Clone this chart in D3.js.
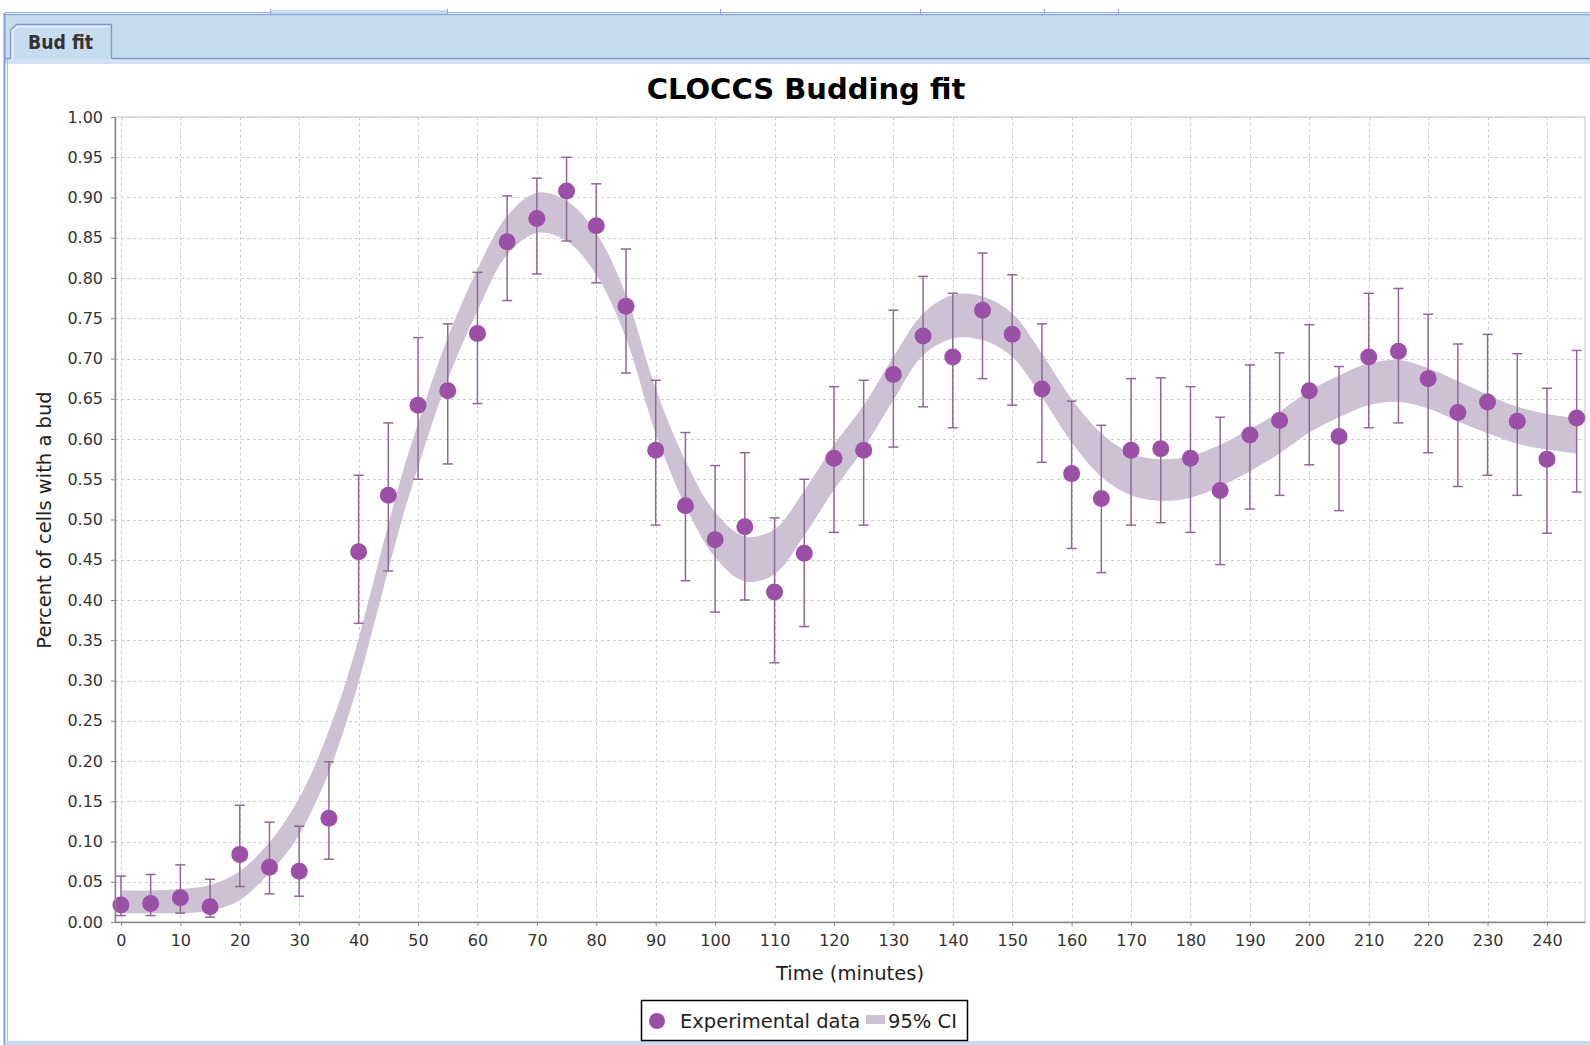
<!DOCTYPE html>
<html><head><meta charset="utf-8">
<script src="https://cdn.jsdelivr.net/npm/d3@7"></script>
<style>body{margin:0;background:#fff;overflow:hidden;} svg{display:block;font-family:"DejaVu Sans",sans-serif;}</style>
</head><body><svg id="c" width="1590" height="1045"></svg>
<script>
// ---- data ----
const times = [0,5,10,15,20,25,30,35,40,45,50,55,60,65,70,75,80,85,90,95,100,105,110,115,120,125,130,135,140,145,150,155,160,165,170,175,180,185,190,195,200,205,210,215,220,225,230,235,240,245];
const budFraction = [0.021,0.023,0.030,0.019,0.084,0.068,0.063,0.129,0.460,0.530,0.642,0.660,0.731,0.845,0.874,0.908,0.865,0.765,0.586,0.517,0.475,0.491,0.410,0.458,0.576,0.586,0.680,0.728,0.702,0.760,0.730,0.662,0.557,0.526,0.586,0.588,0.576,0.536,0.605,0.623,0.660,0.603,0.702,0.709,0.675,0.633,0.646,0.622,0.575,0.626];
const errUpper = [0.057,0.059,0.071,0.053,0.145,0.124,0.119,0.199,0.555,0.620,0.726,0.743,0.807,0.902,0.924,0.950,0.917,0.836,0.673,0.608,0.567,0.583,0.502,0.550,0.665,0.673,0.760,0.802,0.781,0.831,0.804,0.743,0.647,0.617,0.675,0.676,0.665,0.627,0.692,0.707,0.742,0.690,0.781,0.787,0.755,0.718,0.730,0.706,0.663,0.710];
const errLower = [0.008,0.008,0.011,0.006,0.044,0.035,0.032,0.078,0.371,0.436,0.550,0.569,0.644,0.772,0.805,0.846,0.794,0.682,0.493,0.424,0.385,0.400,0.322,0.367,0.484,0.493,0.590,0.640,0.614,0.675,0.642,0.571,0.464,0.434,0.493,0.496,0.484,0.444,0.513,0.530,0.568,0.511,0.614,0.620,0.583,0.541,0.555,0.530,0.483,0.534];
const ciTimes = [0,5,10,15,20,25,27.5,30,32.5,35,37.5,40,42.5,45,47.5,50,55,60,65,70,75,80,85,90,95,100,105,110,115,120,125,130,135,140,145,150,155,160,165,170,175,180,185,190,195,200,205,210,215,220,225,230,235,240,245];
const ciLower = [0.011,0.011,0.011,0.014,0.027,0.061,0.082,0.108,0.144,0.186,0.238,0.298,0.367,0.438,0.505,0.565,0.674,0.759,0.829,0.856,0.846,0.804,0.725,0.607,0.517,0.453,0.423,0.432,0.480,0.537,0.588,0.648,0.704,0.725,0.723,0.702,0.652,0.596,0.553,0.530,0.523,0.527,0.541,0.560,0.582,0.608,0.627,0.642,0.646,0.638,0.622,0.607,0.594,0.587,0.582];
const ciUpper = [0.039,0.039,0.041,0.046,0.063,0.099,0.124,0.154,0.192,0.238,0.290,0.352,0.423,0.494,0.561,0.619,0.726,0.811,0.877,0.906,0.896,0.856,0.779,0.663,0.573,0.509,0.479,0.488,0.536,0.593,0.642,0.702,0.756,0.779,0.777,0.756,0.706,0.650,0.607,0.582,0.575,0.579,0.593,0.612,0.634,0.660,0.679,0.694,0.698,0.688,0.672,0.655,0.640,0.631,0.626];
const xTicks = [0,10,20,30,40,50,60,70,80,90,100,110,120,130,140,150,160,170,180,190,200,210,220,230,240];
const yTicks = [0,0.05,0.10,0.15,0.20,0.25,0.30,0.35,0.40,0.45,0.50,0.55,0.60,0.65,0.70,0.75,0.80,0.85,0.90,0.95,1.00];
const title = "CLOCCS Budding fit";
const tabLabel = "Bud fit";
const xLabel = "Time (minutes)";
const yLabel = "Percent of cells with a bud";
const legendLabels = ["Experimental data", "95% CI"];

// ---- colors ----
const pointColor = "#9b4fa6", barColor = "#8c6a92", bandColor = "#cdc2d4";

const svg = d3.select("#c");

// ---- window chrome ----
const chrome = svg.append("g");
chrome.append("rect").attr("x",0).attr("y",0).attr("width",1590).attr("height",1045).attr("fill","#fff");
chrome.append("line").attr("x1",5).attr("x2",1590).attr("y1",12.5).attr("y2",12.5).attr("stroke","#9fb4d8");
chrome.append("rect").attr("x",270).attr("y",10).attr("width",177).attr("height",4).attr("fill","#c8dcf0");
[270,447,720,920,1044,1118].forEach(px=>chrome.append("line").attr("x1",px+0.5).attr("x2",px+0.5).attr("y1",9).attr("y2",14).attr("stroke","#8ea6cf"));
chrome.append("rect").attr("x",5).attr("y",14).attr("width",1585).attr("height",45).attr("fill","#c8dcf0");
chrome.append("line").attr("x1",5).attr("x2",1590).attr("y1",14.5).attr("y2",14.5).attr("stroke","#8ea9d6").attr("stroke-width",1.5);
chrome.append("rect").attr("x",5).attr("y",59).attr("width",1585).attr("height",5).attr("fill","#d3e2f3");
chrome.append("line").attr("x1",112).attr("x2",1590).attr("y1",58.5).attr("y2",58.5).attr("stroke","#7b96c8").attr("stroke-width",1.5);
chrome.append("line").attr("x1",5).attr("x2",10).attr("y1",58.5).attr("y2",58.5).attr("stroke","#7b96c8").attr("stroke-width",1.5);
// tab
chrome.append("path").attr("d","M10.5,59 L10.5,30 L16.5,24.5 L111.5,24.5 L111.5,59").attr("fill","#c8dcf0").attr("stroke","#7f9acb").attr("stroke-width",1.3);
chrome.append("path").attr("d","M12.5,59 L12.5,31 L17.5,26.5 L110,26.5").attr("fill","none").attr("stroke","#eef4fb").attr("stroke-width",1.2);
chrome.append("text").attr("x",28).attr("y",49).attr("font-weight","bold").attr("font-size",19).attr("fill","#333")
  .attr("textLength",65).attr("lengthAdjust","spacingAndGlyphs").text(tabLabel);
// left border
chrome.append("line").attr("x1",4.5).attr("x2",4.5).attr("y1",13).attr("y2",1045).attr("stroke","#7f9fd3").attr("stroke-width",2);
chrome.append("line").attr("x1",7.5).attr("x2",7.5).attr("y1",59).attr("y2",1045).attr("stroke","#a9c0e6").attr("stroke-width",1);
chrome.append("rect").attr("x",5).attr("y",1041).attr("width",1585).attr("height",4).attr("fill","#c8dcf0");

// ---- scales ----
const x = d3.scaleLinear().domain([-1.0, 246.4]).range([115, 1585]);
const y = d3.scaleLinear().domain([0, 1]).range([922, 117]);

// title
svg.append("text").attr("x",806).attr("y",99).attr("text-anchor","middle").attr("font-weight","bold").attr("font-size",29).attr("fill","#000").text(title);

// plot background/border
svg.append("rect").attr("x",115).attr("y",117).attr("width",1470).attr("height",805).attr("fill","#fff").attr("stroke","#c4c4c4").attr("stroke-width",1);

// grid
const grid = svg.append("g").attr("stroke","#cfcfcf").attr("stroke-width",1).attr("stroke-dasharray","3,3");
grid.selectAll(".gx").data(xTicks).join("line").attr("x1",d=>Math.round(x(d))+0.5).attr("x2",d=>Math.round(x(d))+0.5).attr("y1",117).attr("y2",922);
grid.selectAll(".gy").data(yTicks.filter(d=>d>0)).join("line").attr("y1",d=>Math.round(y(d))+0.5).attr("y2",d=>Math.round(y(d))+0.5).attr("x1",115).attr("x2",1585);

// CI band
const bandData = ciTimes.map((t,i)=>({t, lo: ciLower[i], hi: ciUpper[i]}));
svg.append("path").datum(bandData)
  .attr("d", d3.area().x(d=>x(d.t)).y0(d=>y(d.lo)).y1(d=>y(d.hi)).curve(d3.curveCatmullRom))
  .attr("fill", bandColor);

// error bars
const pts = times.map((t,i)=>({t, v: budFraction[i], lo: errLower[i], hi: errUpper[i]}));
const eb = svg.append("g").attr("stroke",barColor).attr("stroke-width",1.5);
eb.selectAll(".v").data(pts).join("line").attr("x1",d=>x(d.t)).attr("x2",d=>x(d.t)).attr("y1",d=>y(d.lo)).attr("y2",d=>y(d.hi));
eb.selectAll(".ct").data(pts).join("line").attr("x1",d=>x(d.t)-5).attr("x2",d=>x(d.t)+5).attr("y1",d=>y(d.hi)).attr("y2",d=>y(d.hi));
eb.selectAll(".cb").data(pts).join("line").attr("x1",d=>x(d.t)-5).attr("x2",d=>x(d.t)+5).attr("y1",d=>y(d.lo)).attr("y2",d=>y(d.lo));

// points
svg.append("g").selectAll("circle").data(pts).join("circle")
  .attr("cx",d=>x(d.t)).attr("cy",d=>y(d.v)).attr("r",8.5).attr("fill",pointColor);

// axes
const yAxis = svg.append("g").attr("transform","translate(115,0)")
  .call(d3.axisLeft(y).tickValues(yTicks).tickFormat(d3.format(".2f")).tickSize(4).tickPadding(8).tickSizeOuter(0));
const xAxis = svg.append("g").attr("transform","translate(0,922)")
  .call(d3.axisBottom(x).tickValues(xTicks).tickFormat(d3.format("d")).tickSize(4).tickPadding(9).tickSizeOuter(0));
[yAxis,xAxis].forEach(a=>{
  a.select(".domain").attr("stroke","#888").attr("stroke-width",1.5);
  a.selectAll(".tick line").attr("stroke","#888");
  a.selectAll(".tick text").attr("font-family","DejaVu Sans").attr("font-size",16).attr("fill","#333");
});

// axis labels
svg.append("text").attr("x",850).attr("y",980).attr("text-anchor","middle").attr("font-size",19.5).attr("fill","#222").text(xLabel);
svg.append("text").attr("transform","translate(51,520) rotate(-90)").attr("text-anchor","middle").attr("font-size",19.5).attr("fill","#222").text(yLabel);

// legend
const lg = svg.append("g");
lg.append("rect").attr("x",641.5).attr("y",1000.5).attr("width",326).attr("height",40).attr("fill","#fff").attr("stroke","#000").attr("stroke-width",1.5);
lg.append("circle").attr("cx",657).attr("cy",1021).attr("r",8).attr("fill",pointColor);
lg.append("text").attr("x",680).attr("y",1028).attr("font-size",19.5).attr("fill","#222").text(legendLabels[0]);
lg.append("rect").attr("x",866).attr("y",1015).attr("width",19).attr("height",9).attr("fill",bandColor);
lg.append("text").attr("x",888).attr("y",1028).attr("font-size",19.5).attr("fill","#222").text(legendLabels[1]);
</script></body></html>
